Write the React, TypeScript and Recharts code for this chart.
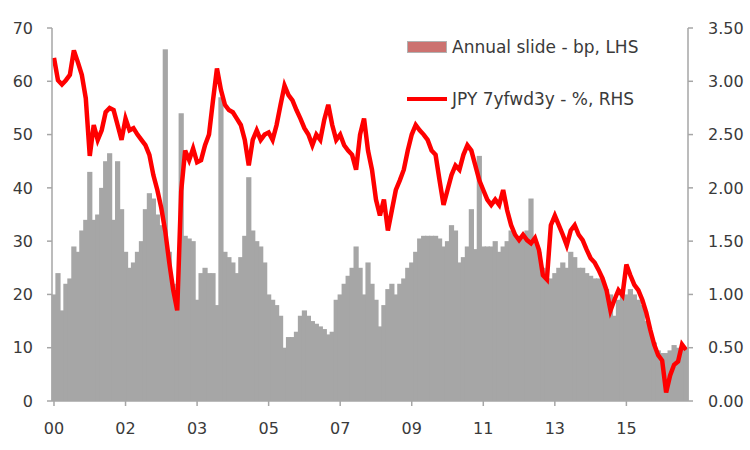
import React from 'react';
import { ComposedChart, Bar, Line, XAxis, YAxis } from 'recharts';

const tickIdx = [0, 18, 36, 54, 72, 90, 108, 126, 144];
const tickLabels = ['00', '02', '03', '05', '07', '09', '11', '13', '15'];
const leftTicks = [0, 10, 20, 30, 40, 50, 60, 70];
const rightTicks = [0, 0.5, 1, 1.5, 2, 2.5, 3, 3.5];

const slideBp = [
  20, 24, 17, 22, 23, 29, 28, 32, 34, 43,
  34, 35, 40, 45, 46.5, 34, 45, 36, 28, 25,
  26, 28, 30, 36, 39, 38, 35, 33, 66, 28,
  22, 20, 54, 31, 30.5, 30, 19, 24, 25, 24,
  24, 18, 57, 28, 27, 26, 24, 27, 31, 42,
  32, 30, 29, 26, 20, 19, 18, 16, 10, 12,
  12, 13, 16, 17, 16, 15, 14.5, 14, 13.5, 12.5,
  13, 19, 20, 22, 23.5, 25, 29, 25, 20, 26,
  22, 19, 14, 18, 21, 22, 20, 22, 23, 25,
  26, 28, 30.5, 31, 31, 31, 31, 30.5, 29, 30,
  33, 32, 26, 27, 29, 36, 28.5, 46, 29, 29,
  29, 30, 28, 29, 30, 32, 31, 30.5, 31, 32,
  38, 30, 28, 25, 23, 23, 24, 25, 26, 25,
  28, 27, 25, 25, 24, 23.5, 23, 23, 22.5, 21,
  20, 16, 19, 21, 20, 21, 20, 19, 18, 15,
  13, 11, 9.5, 9, 9, 9.5, 10.5, 10, 9.5, 10,
];

const fwdPct = [
  3.22, 3.01, 2.97, 3.01, 3.06, 3.29, 3.18, 3.06, 2.84, 2.3,
  2.59, 2.45, 2.54, 2.71, 2.75, 2.73, 2.59, 2.45, 2.65, 2.54,
  2.56, 2.5, 2.45, 2.4, 2.31, 2.12, 1.98, 1.81, 1.59, 1.3,
  1.04, 0.85, 1.97, 2.35, 2.26, 2.37, 2.24, 2.26, 2.4, 2.5,
  2.82, 3.12, 2.92, 2.78, 2.73, 2.71, 2.65, 2.59, 2.45, 2.21,
  2.45, 2.54, 2.45, 2.5, 2.52, 2.45, 2.59, 2.78, 2.96, 2.87,
  2.82, 2.73, 2.65, 2.56, 2.5, 2.4, 2.5, 2.45, 2.64, 2.78,
  2.59, 2.45, 2.5, 2.4, 2.35, 2.31, 2.17, 2.5, 2.65, 2.35,
  2.17, 1.89, 1.74, 1.89, 1.6, 1.79, 1.98, 2.07, 2.17, 2.35,
  2.5, 2.59, 2.54, 2.5, 2.45, 2.35, 2.31, 2.07, 1.84, 1.98,
  2.12, 2.21, 2.17, 2.31, 2.4, 2.35, 2.21, 2.07, 1.98, 1.89,
  1.84, 1.89, 1.84, 1.98, 1.79, 1.65, 1.56, 1.51, 1.56, 1.51,
  1.48, 1.53, 1.42, 1.18, 1.14, 1.65, 1.74, 1.65, 1.56, 1.46,
  1.6, 1.65, 1.56, 1.51, 1.42, 1.34, 1.3, 1.23, 1.15, 1.04,
  0.85, 0.95, 1.04, 0.99, 1.28, 1.18, 1.09, 1.04, 0.95, 0.83,
  0.67, 0.53, 0.43, 0.38, 0.08, 0.24, 0.34, 0.37, 0.53, 0.48,
];

const data = slideBp.map((v, i) => ({ i, slide: v, fwd: fwdPct[i] }));

const FONT = '"DejaVu Sans", Verdana, sans-serif';
const axisColor = '#A6A6A6';
const textColor = '#3A3A3A';
const barColor = '#A6A6A6';

const SolidBar = (props: any) => {
  const { x, y, width, height } = props;
  if (!height || height <= 0) return null;
  return <rect x={x - 0.6} y={y} width={width + 1.2} height={height} fill={barColor} />;
};

export default function App() {
  const tickStyle = { fill: textColor, fontSize: 16, fontFamily: FONT };
  return (
    <div style={{ position: 'absolute', left: 0, top: 0, width: 750, height: 450, background: '#fff' }}>
      <ComposedChart
        width={750}
        height={450}
        data={data}
        margin={{ top: 28, right: 0, bottom: 19, left: 0 }}
        barCategoryGap="0%"
        barGap={0}
      >
        <XAxis
          dataKey="i"
          interval={17}
          tickFormatter={(v) => {
            const k = tickIdx.indexOf(Number(v));
            return k >= 0 ? tickLabels[k] : '';
          }}
          axisLine={{ stroke: axisColor, strokeWidth: 1.5 }}
          tickLine={{ stroke: axisColor, strokeWidth: 1.5 }}
          tickSize={5}
          tickMargin={17}
          height={30}
          tick={tickStyle}
        />
        <YAxis
          yAxisId="left"
          domain={[0, 70]}
          ticks={leftTicks}
          width={52}
          axisLine={{ stroke: axisColor, strokeWidth: 1.5 }}
          tickLine={{ stroke: axisColor, strokeWidth: 1.5 }}
          tickSize={5}
          tickMargin={14}
          tick={tickStyle}
          allowDataOverflow
        />
        <YAxis
          yAxisId="right"
          orientation="right"
          domain={[0, 3.5]}
          ticks={rightTicks}
          width={62}
          tickFormatter={(v) => Number(v).toFixed(2)}
          axisLine={{ stroke: axisColor, strokeWidth: 1.5 }}
          tickLine={{ stroke: axisColor, strokeWidth: 1.5 }}
          tickSize={5}
          tickMargin={15}
          tick={tickStyle}
          allowDataOverflow
        />
        <Bar
          yAxisId="left"
          dataKey="slide"
          fill={barColor}
          shape={SolidBar}
          isAnimationActive={false}
        />
        <Line
          yAxisId="right"
          dataKey="fwd"
          type="linear"
          stroke="#FF0000"
          strokeWidth={4.5}
          strokeLinejoin="miter"
          dot={false}
          activeDot={false}
          isAnimationActive={false}
        />
      </ComposedChart>
      <div style={{ position: 'absolute', left: 407, top: 35, fontFamily: FONT, fontSize: 17, color: textColor }}>
        <div style={{ display: 'flex', alignItems: 'center', height: 24 }}>
          <span style={{ display: 'inline-block', width: 38, height: 10, background: '#C0504D', border: '1px solid #A0A0A0', marginRight: 5, opacity: 0.8 }} />
          <span>Annual slide - bp, LHS</span>
        </div>
        <div style={{ display: 'flex', alignItems: 'center', height: 24, marginTop: 28 }}>
          <span style={{ display: 'inline-block', width: 40, height: 4, background: '#FF0000', marginRight: 5 }} />
          <span>JPY 7yfwd3y - %, RHS</span>
        </div>
      </div>
    </div>
  );
}
